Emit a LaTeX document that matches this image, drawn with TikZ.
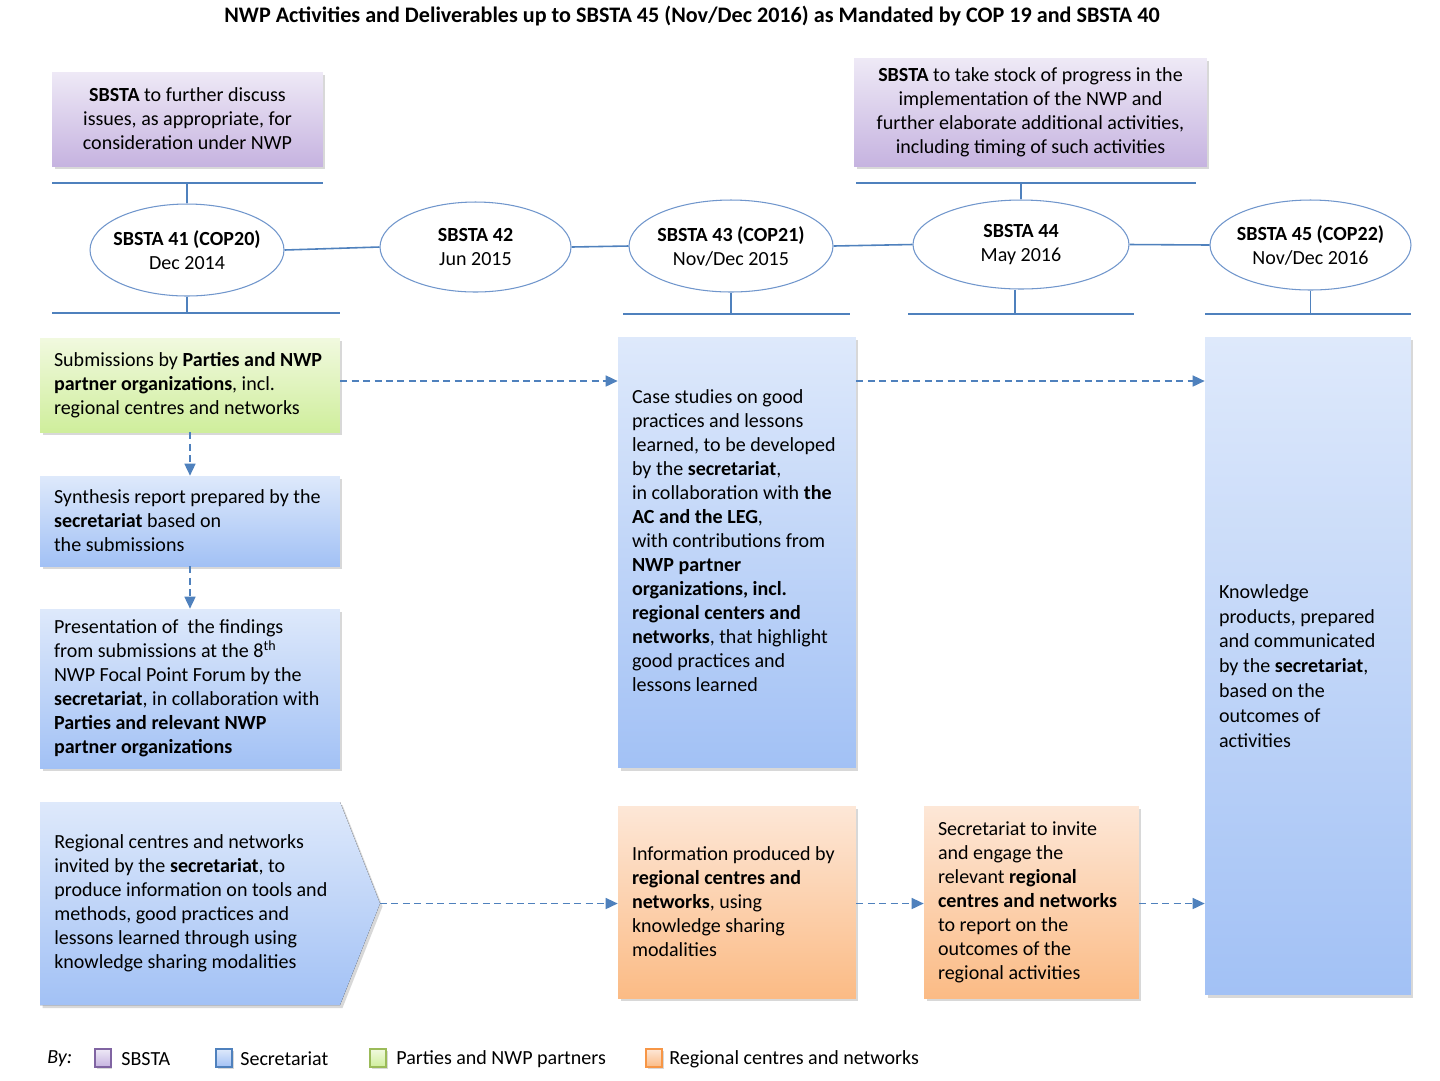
\documentclass[tikz,border=0pt]{standalone}
\usepackage{fontspec}
\setmainfont{Carlito}
\usetikzlibrary{shapes.geometric,arrows.meta,shadows}

\definecolor{lineblue}{HTML}{4F81BD}
\definecolor{ellblue}{HTML}{7096CC}
\definecolor{purtop}{HTML}{EEE9F6}
\definecolor{purbot}{HTML}{C6B3E0}
\definecolor{purline}{HTML}{8064A2}
\definecolor{gretop}{HTML}{F1F9DF}
\definecolor{grebot}{HTML}{CFEE9C}
\definecolor{greline}{HTML}{9BBB59}
\definecolor{blutop}{HTML}{DEE9FB}
\definecolor{blubot}{HTML}{A2C1F5}
\definecolor{oratop}{HTML}{FDE7D7}
\definecolor{orabot}{HTML}{FBBB85}
\definecolor{oraline}{HTML}{F79646}

\tikzset{
  txt/.style={font=\fontsize{11.4}{13.66}\selectfont},
  boxshadow/.style={drop shadow={shadow xshift=0.05cm,shadow yshift=-0.06cm,opacity=0.3}},
  shadebox/.style={rectangle,inner xsep=0.28cm,inner ysep=0pt,txt,boxshadow},
  sbstabox/.style={shadebox,top color=purtop,bottom color=purbot,align=flush center},
  partnerbox/.style={shadebox,top color=gretop,bottom color=grebot,align=flush left},
  secbox/.style={shadebox,top color=blutop,bottom color=blubot,align=flush left},
  regbox/.style={shadebox,top color=oratop,bottom color=orabot,align=flush left},
  meeting/.style={ellipse,draw=ellblue,line width=0.6pt,fill=white,inner sep=0pt},
  meetingtxt/.style={txt,align=flush center,inner sep=0pt},
  bar/.style={draw=lineblue,line width=0.9pt},
  flow/.style={draw=lineblue,line width=0.9pt,dash pattern=on 4pt off 2.5pt,
    -{Triangle[length=0.24cm,width=0.22cm]}},
  legbox/.style={rectangle,minimum width=0.32cm,minimum height=0.36cm,line width=0.8pt,inner sep=0pt,
    drop shadow={shadow xshift=0.03cm,shadow yshift=-0.03cm,opacity=0.3}},
  legtxt/.style={txt,anchor=west,inner sep=0pt}
}

\begin{document}
\begin{tikzpicture}[x=0.02cm,y=-0.02cm]
        \useasboundingbox[fill=white] (0,0) rectangle (1440,1080);
        \node[font=\bfseries\fontsize{12.6}{14}\selectfont] (title) at (692,16)
            {NWP Activities and Deliverables up to SBSTA 45 (Nov/Dec 2016) as Mandated by COP 19 and SBSTA 40};

        % SBSTA mandates
        \node[sbstabox,minimum width=5.42cm,minimum height=1.88cm,text width=4.86cm] (discuss) at (187.5,119)
            {\textbf{SBSTA} to further discuss\\ issues, as appropriate, for\\ consideration under NWP};
        \node[sbstabox,minimum width=7.06cm,minimum height=2.16cm,text width=6.5cm] (stock) at (1030.5,112)
            {\textbf{SBSTA} to take stock of progress in the\\ implementation of the NWP and\\ further elaborate additional activities,\\ including timing of such activities};

        % sessions
        \node[meeting,minimum width=3.88cm,minimum height=1.84cm] (e41) at (187,250) {};
        \node[meeting,minimum width=3.82cm,minimum height=1.80cm] (e42) at (475.5,247) {};
        \node[meeting,minimum width=4.08cm,minimum height=1.84cm] (e43) at (731,246) {};
        \node[meeting,minimum width=4.32cm,minimum height=1.78cm] (e44) at (1021,244.5) {};
        \node[meeting,minimum width=4.02cm,minimum height=1.80cm] (e45) at (1310.5,245) {};
        \node[meetingtxt] (e41t) at (e41) {\textbf{SBSTA 41 (COP20)}\\ Dec 2014};
        \node[meetingtxt] (e42t) at (e42) {\textbf{SBSTA 42}\\ Jun 2015};
        \node[meetingtxt] (e43t) at (e43) {\textbf{SBSTA 43 (COP21)}\\ Nov/Dec 2015};
        \node[meetingtxt] (e44t) at (e44) {\textbf{SBSTA 44}\\ May 2016};
        \node[meetingtxt] (e45t) at (e45) {\textbf{SBSTA 45 (COP22)}\\ Nov/Dec 2016};
        \draw[bar] (e41.east) -- (e42.west);
        \draw[bar] (e42.east) -- (e43.west);
        \draw[bar] (e43.east) -- (e44.west);
        \draw[bar] (e44.east) -- (e45.west);

        % bars above and below the sessions
        \coordinate (t41l) at (52,183);  \coordinate (t41r) at (323,183);
        \coordinate (t44l) at (856,183); \coordinate (t44r) at (1196,183);
        \draw[bar] (t41l) -- (t41r);
        \draw[bar] (t41l -| e41) -- (e41.north);
        \draw[bar] (t44l) -- (t44r);
        \draw[bar] (t44l -| e44) -- (e44.north);
        \coordinate (b41l) at (52,313);   \coordinate (b41r) at (340,313);
        \coordinate (b43l) at (623,314);  \coordinate (b43r) at (850,314);
        \coordinate (b44l) at (908,314);  \coordinate (b44r) at (1134,314);
        \coordinate (b45l) at (1205,314); \coordinate (b45r) at (1411,314);
        \draw[bar] (b41l) -- (b41r);
        \draw[bar] (e41.south) -- (e41.south |- b41l);
        \draw[bar] (b43l) -- (b43r);
        \draw[bar] (e43.south) -- (e43.south |- b43l);
        \draw[bar] (b44l) -- (b44r);
        \draw[bar] ([xshift=-0.12cm]e44.south) -- ([xshift=-0.12cm]e44.south |- b44l);
        \draw[bar] (b45l) -- (b45r);
        \draw[bar] (e45.south) -- (e45.south |- b45l);

        % left column
        \node[partnerbox,minimum width=6cm,minimum height=1.88cm,text width=5.44cm] (subm) at (190,385)
            {Submissions by \textbf{Parties and NWP}\\ \textbf{partner organizations}, incl.\\ regional centres and networks};
        \node[secbox,minimum width=6cm,minimum height=1.8cm,text width=5.44cm] (synth) at (190,521)
            {Synthesis report prepared by the\\ \textbf{secretariat} based on\\ the submissions};
        \node[secbox,minimum width=6cm,minimum height=3.18cm,text width=5.44cm] (forum) at (190,688.5)
            {Presentation of\ \ the findings\\ from submissions at the 8\textsuperscript{th}\\ NWP Focal Point Forum by the\\ \textbf{secretariat}, in collaboration with\\ \textbf{Parties and relevant NWP}\\ \textbf{partner organizations}};
        \fill[top color=blutop,bottom color=blubot,boxshadow] (40,802) -- (340,802) -- (380,903.5) -- (340,1005) -- (40,1005) -- cycle;
        \coordinate (tip) at (380,903.5);
        \node[txt,align=flush left,anchor=west,inner sep=0pt] (invited) at (54,903)
            {Regional centres and networks\\ invited by the \textbf{secretariat}, to\\ produce information on tools and\\ methods, good practices and\\ lessons learned through using\\ knowledge sharing modalities};

        % middle and right
        \node[secbox,minimum width=4.76cm,minimum height=8.62cm,text width=4.2cm] (cases) at (737,552.5)
            {Case studies on good\\ practices and lessons\\ learned, to be developed\\ by the \textbf{secretariat},\\ in collaboration with \textbf{the}\\ \textbf{AC and the LEG},\\ with contributions from\\ \textbf{NWP partner}\\ \textbf{organizations, incl.}\\ \textbf{regional centers and}\\ \textbf{networks}, that highlight\\ good practices and\\ lessons learned\\ \mbox{}};
        \node[regbox,minimum width=4.76cm,minimum height=3.84cm,text width=4.2cm] (info) at (737,902)
            {Information produced by\\ \textbf{regional centres and}\\ \textbf{networks}, using\\ knowledge sharing\\ modalities};
        \node[regbox,minimum width=4.3cm,minimum height=3.84cm,text width=3.74cm] (engage) at (1031.5,902)
            {Secretariat to invite\\ and engage the\\ relevant \textbf{regional}\\ \textbf{centres and networks}\\ to report on the\\ outcomes of the\\ regional activities};
        \node[secbox,minimum width=4.12cm,minimum height=13.16cm,text width=3.56cm,
              font=\fontsize{11.4}{14.2}\selectfont] (products) at (1308,666)
            {Knowledge\\ products, prepared\\ and communicated\\ by the \textbf{secretariat},\\ based on the\\ outcomes of\\ activities};

        % flows
        \draw[flow] (subm.south) -- (synth.north);
        \draw[flow] (synth.south) -- (forum.north);
        \draw[flow] ([yshift=0.08cm]subm.east) -- ([yshift=0.08cm]subm.east -| cases.west);
        \draw[flow] ([yshift=0.08cm]subm.east -| cases.east) -- ([yshift=0.08cm]subm.east -| products.west);
        \draw[flow] (tip) -- (tip -| info.west);
        \draw[flow] (tip -| info.east) -- (tip -| engage.west);
        \draw[flow] (tip -| engage.east) -- (tip -| products.west);

        % legend
        \node[legtxt,font=\itshape\fontsize{11.4}{13.66}\selectfont] (by) at (47,1059) {By:};
        \node[legbox,draw=purline,top color=purtop,bottom color=purbot] (lsbsta) at (103,1058) {};
        \node[legtxt] (lsbstatxt) at (121,1059) {SBSTA};
        \node[legbox,draw=lineblue,top color=blutop,bottom color=blubot] (lsec) at (224,1058) {};
        \node[legtxt] (lsectxt) at (240,1059) {Secretariat};
        \node[legbox,draw=greline,top color=gretop,bottom color=grebot] (lpart) at (378,1058) {};
        \node[legtxt] (lparttxt) at (396,1059) {Parties and NWP partners};
        \node[legbox,draw=oraline,top color=oratop,bottom color=orabot] (lreg) at (654,1058) {};
        \node[legtxt] (lregtxt) at (669,1059) {Regional centres and networks};
\end{tikzpicture}
\end{document}
